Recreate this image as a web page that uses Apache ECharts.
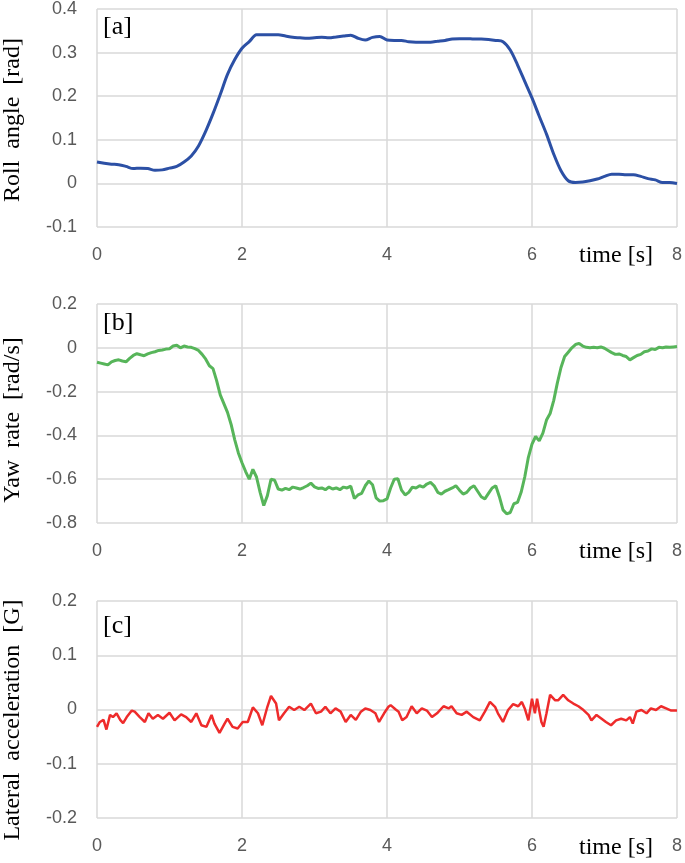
<!DOCTYPE html>
<html>
<head>
<meta charset="utf-8">
<script src="https://cdn.jsdelivr.net/npm/echarts@6/dist/echarts.min.js"></script>
<style>html,body{margin:0;padding:0;background:#fff}#c{width:685px;height:863px}</style>
</head>
<body>
<div id="c"></div>
<script>
// ---- Panel [a] : roll angle ----
const tA = [0.0,0.1,0.2,0.3,0.4,0.5,0.6,0.7,0.8,0.9,1.0,1.1,1.2,1.3,1.4,1.5,1.6,1.7,1.8,1.9,2.0,2.1,2.2,2.3,2.4,2.5,2.6,2.7,2.8,2.9,3.0,3.1,3.2,3.3,3.4,3.5,3.6,3.7,3.8,3.9,4.0,4.1,4.2,4.3,4.4,4.5,4.6,4.7,4.8,4.9,5.0,5.1,5.2,5.3,5.4,5.5,5.6,5.7,5.8,5.9,6.0,6.1,6.2,6.3,6.4,6.5,6.6,6.7,6.8,6.9,7.0,7.1,7.2,7.3,7.4,7.5,7.6,7.7,7.8,7.9,8.0];
const rollA = [0.049,0.046,0.044,0.043,0.039,0.034,0.035,0.034,0.030,0.031,0.035,0.039,0.049,0.063,0.086,0.120,0.160,0.204,0.250,0.284,0.310,0.325,0.341,0.341,0.341,0.341,0.338,0.335,0.334,0.333,0.334,0.335,0.334,0.336,0.338,0.340,0.333,0.329,0.335,0.337,0.329,0.328,0.328,0.325,0.324,0.324,0.324,0.326,0.328,0.331,0.332,0.332,0.331,0.331,0.330,0.328,0.325,0.306,0.272,0.234,0.196,0.154,0.113,0.067,0.029,0.006,0.002,0.003,0.006,0.010,0.016,0.021,0.021,0.020,0.020,0.016,0.011,0.008,0.002,0.002,0.000];

// ---- Panel [b] : yaw rate ----
const tB = [0.00,0.05,0.10,0.15,0.20,0.25,0.30,0.35,0.40,0.45,0.50,0.55,0.60,0.65,0.70,0.75,0.80,0.85,0.90,0.95,1.00,1.05,1.10,1.15,1.20,1.25,1.30,1.35,1.40,1.45,1.50,1.55,1.60,1.65,1.70,1.75,1.80,1.85,1.90,1.95,2.00,2.05,2.10,2.15,2.20,2.25,2.30,2.35,2.40,2.45,2.50,2.55,2.60,2.65,2.70,2.75,2.80,2.85,2.90,2.95,3.00,3.05,3.10,3.15,3.20,3.25,3.30,3.35,3.40,3.45,3.50,3.55,3.60,3.65,3.70,3.75,3.80,3.85,3.90,3.95,4.00,4.05,4.10,4.15,4.20,4.25,4.30,4.35,4.40,4.45,4.50,4.55,4.60,4.65,4.70,4.75,4.80,4.85,4.90,4.95,5.00,5.05,5.10,5.15,5.20,5.25,5.30,5.35,5.40,5.45,5.50,5.55,5.60,5.65,5.70,5.75,5.80,5.85,5.90,5.95,6.00,6.05,6.10,6.15,6.20,6.25,6.30,6.35,6.40,6.45,6.50,6.55,6.60,6.65,6.70,6.75,6.80,6.85,6.90,6.95,7.00,7.05,7.10,7.15,7.20,7.25,7.30,7.35,7.40,7.45,7.50,7.55,7.60,7.65,7.70,7.75,7.80,7.85,7.90,7.95,8.00];
const yawB = [-0.066,-0.070,-0.074,-0.078,-0.064,-0.058,-0.055,-0.060,-0.064,-0.048,-0.035,-0.027,-0.032,-0.036,-0.028,-0.022,-0.018,-0.012,-0.010,-0.006,-0.004,0.008,0.012,0.000,0.008,0.004,0.002,-0.004,-0.012,-0.030,-0.052,-0.082,-0.095,-0.150,-0.215,-0.255,-0.295,-0.350,-0.420,-0.480,-0.525,-0.565,-0.600,-0.555,-0.590,-0.660,-0.720,-0.675,-0.600,-0.605,-0.645,-0.650,-0.642,-0.648,-0.636,-0.640,-0.645,-0.638,-0.630,-0.618,-0.635,-0.642,-0.640,-0.648,-0.636,-0.645,-0.640,-0.648,-0.636,-0.640,-0.632,-0.688,-0.672,-0.665,-0.630,-0.608,-0.625,-0.685,-0.700,-0.698,-0.690,-0.640,-0.600,-0.598,-0.650,-0.672,-0.660,-0.636,-0.640,-0.630,-0.636,-0.622,-0.615,-0.630,-0.660,-0.668,-0.655,-0.648,-0.640,-0.630,-0.650,-0.668,-0.660,-0.640,-0.630,-0.655,-0.680,-0.690,-0.665,-0.640,-0.630,-0.680,-0.740,-0.758,-0.752,-0.712,-0.706,-0.660,-0.590,-0.500,-0.440,-0.405,-0.425,-0.390,-0.330,-0.300,-0.240,-0.160,-0.090,-0.040,-0.020,0.000,0.015,0.020,0.008,0.002,0.000,0.002,0.000,0.004,-0.002,-0.012,-0.022,-0.030,-0.028,-0.035,-0.040,-0.055,-0.045,-0.035,-0.030,-0.018,-0.015,-0.005,-0.008,0.002,0.000,0.004,0.002,0.004,0.006];

// ---- Panel [c] : lateral acceleration ----
const tC = [0.00,0.04,0.09,0.13,0.18,0.22,0.27,0.32,0.36,0.41,0.48,0.52,0.59,0.66,0.71,0.77,0.84,0.91,1.00,1.07,1.16,1.23,1.30,1.37,1.44,1.51,1.58,1.62,1.69,1.76,1.80,1.87,1.94,2.01,2.08,2.15,2.22,2.28,2.35,2.40,2.47,2.51,2.58,2.65,2.72,2.79,2.86,2.95,3.02,3.09,3.15,3.22,3.29,3.36,3.43,3.50,3.57,3.64,3.70,3.77,3.84,3.89,3.96,4.02,4.05,4.12,4.16,4.21,4.27,4.34,4.41,4.48,4.55,4.62,4.69,4.78,4.85,4.89,4.96,5.03,5.10,5.19,5.28,5.35,5.42,5.49,5.53,5.60,5.67,5.74,5.81,5.86,5.90,5.95,6.00,6.04,6.07,6.13,6.16,6.20,6.25,6.32,6.36,6.43,6.50,6.57,6.64,6.71,6.78,6.82,6.89,6.96,7.02,7.09,7.16,7.23,7.30,7.35,7.39,7.44,7.51,7.58,7.64,7.71,7.78,7.85,7.92,8.00];
const accC = [-0.032,-0.023,-0.019,-0.037,-0.010,-0.014,-0.007,-0.019,-0.025,-0.014,-0.002,-0.004,-0.014,-0.023,-0.007,-0.017,-0.010,-0.017,-0.006,-0.020,-0.009,-0.014,-0.023,-0.007,-0.029,-0.032,-0.010,-0.026,-0.043,-0.026,-0.017,-0.032,-0.035,-0.023,-0.023,0.004,-0.007,-0.029,0.005,0.025,0.011,-0.020,-0.007,0.005,-0.001,0.005,-0.001,0.011,-0.007,-0.004,0.005,-0.007,0.002,-0.004,-0.023,-0.010,-0.019,-0.004,0.002,-0.001,-0.007,-0.023,-0.007,0.005,0.008,0.000,-0.004,-0.020,-0.014,0.006,-0.007,0.002,-0.002,-0.014,-0.007,0.006,0.002,0.006,-0.007,-0.010,-0.004,-0.014,-0.020,-0.004,0.014,0.005,-0.007,-0.023,-0.001,0.010,0.006,0.014,0.002,-0.020,0.020,-0.007,0.020,-0.023,-0.032,-0.007,0.027,0.017,0.017,0.027,0.017,0.011,0.006,-0.001,-0.010,-0.020,-0.010,-0.017,-0.023,-0.029,-0.020,-0.017,-0.020,-0.014,-0.026,-0.004,-0.001,-0.007,0.002,-0.001,0.006,0.002,-0.002,-0.002];

// ---- axes / labels ----
const xTicks = {min: 0, max: 8, interval: 2};
const yRanges = [
  {min: -0.1, max: 0.4, interval: 0.1},
  {min: -0.8, max: 0.2, interval: 0.2},
  {min: -0.2, max: 0.2, interval: 0.1}
];
const yTitles = ['Roll  angle  [rad]', 'Yaw  rate  [rad/s]', 'Lateral  acceleration  [G]'];
const panelTags = ['[a]', '[b]', '[c]'];
const xTitle = 'time [s]';
const colors = ['#2C50A5', '#57B55A', '#EE2B2B'];

const zip = (t, v) => t.map((x, i) => [x, v[i]]);
const seriesData = [zip(tA, rollA), zip(tB, yawB), zip(tC, accC)];

const grids = [
  {left: 97, right: 5.5, top: 7.5, height: 219.5},
  {left: 97, right: 5.5, top: 304, height: 219},
  {left: 97, right: 5.5, top: 601, height: 217}
];
const gridColor = '#D9D9D9';
const tickFont = 'Liberation Sans';
const fmt = v => String(+(+v).toFixed(1));

const option = {
  animation: false,
  backgroundColor: '#fff',
  grid: grids,
  xAxis: grids.map((g, i) => ({
    type: 'value', gridIndex: i, min: xTicks.min, max: xTicks.max, interval: xTicks.interval,
    axisLine: {show: false}, axisTick: {show: false},
    splitLine: {show: true, lineStyle: {color: gridColor, width: 1.5}},
    axisLabel: {fontSize: 18, color: '#595959', fontFamily: tickFont, margin: 19, formatter: fmt}
  })),
  yAxis: grids.map((g, i) => ({
    type: 'value', gridIndex: i, min: yRanges[i].min, max: yRanges[i].max, interval: yRanges[i].interval,
    axisLine: {show: false}, axisTick: {show: false},
    splitLine: {show: true, lineStyle: {color: gridColor, width: 1.5}},
    axisLabel: {fontSize: 18, color: '#595959', fontFamily: tickFont, margin: 20, formatter: fmt}
  })),
  series: seriesData.map((d, i) => ({
    type: 'line', xAxisIndex: i, yAxisIndex: i, data: d, showSymbol: false,
    smooth: i === 0 ? 0.3 : false,
    lineStyle: {color: colors[i], width: i === 2 ? 2.5 : 3}
  })),
  graphic: [
    ...yTitles.map((s, i) => ({
      type: 'text', x: 13, y: [120, 420, 720][i], rotation: Math.PI / 2,
      style: {text: s, font: '24px "Liberation Serif"', fill: '#000', textAlign: 'center', textVerticalAlign: 'middle'}
    })),
    ...panelTags.map((s, i) => ({
      type: 'text', x: 103, y: [27, 323, 626][i],
      style: {text: s, font: '26px "Liberation Serif"', fill: '#000', textAlign: 'left', textVerticalAlign: 'middle'}
    })),
    ...[256, 552, 848].map(y => ({
      type: 'text', x: 616, y: y,
      style: {text: xTitle, font: '24px "Liberation Serif"', fill: '#000', textAlign: 'center', textVerticalAlign: 'middle'}
    }))
  ]
};
const chart = echarts.init(document.getElementById('c'), null, {renderer: 'canvas'});
chart.setOption(option);
</script>
</body>
</html>
